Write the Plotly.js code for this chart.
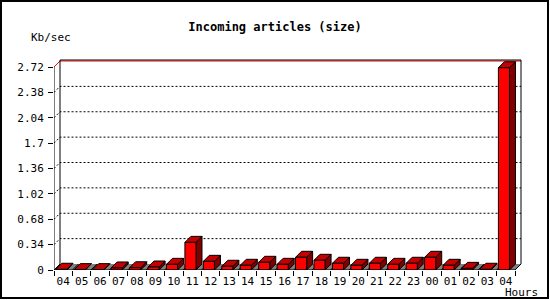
<!DOCTYPE html>
<html>
<head>
<meta charset="utf-8">
<script src="https://cdn.plot.ly/plotly-3.0.1.min.js"></script>
<style>
  html, body { margin: 0; padding: 0; background: #fff; }
  #wrap { position: relative; width: 550px; height: 300px; }
  #chart { position: absolute; left: 0; top: 0; width: 550px; height: 300px; }
  #frame { position: absolute; left: 0; top: 0; width: 549px; height: 299px; border: 2px solid #000; box-sizing: border-box; pointer-events: none; }
</style>
</head>
<body>
<div id="wrap"><div id="chart"></div><div id="frame"></div></div>
<script>
// ---- data ----
const hours = ['04','05','06','07','08','09','10','11','12','13','14','15','16','17','18','19','20','21','22','23','00','01','02','03','04'];
const kbPerSec = [0.01,0.005,0.005,0.027,0.03,0.04,0.076,0.37,0.116,0.05,0.063,0.103,0.076,0.17,0.13,0.09,0.063,0.09,0.076,0.09,0.17,0.063,0.022,0.01,2.71];
const yTickVals = [0,0.34,0.68,1.02,1.36,1.7,2.04,2.38,2.72];
const yTickText = ['0','0.34','0.68','1.02','1.36','1.7','2.04','2.38','2.72'];

// ---- geometry (style) ----
const pxPerX = 18.44, pxPerY = 74.63;
const dx = 6 / pxPerX, dy = 6 / pxPerY;
const n = hours.length;
const xs = hours.map((_, i) => i);
const x0 = -0.5, x1 = n - 0.5;
const yMax = yTickVals[yTickVals.length - 1];
const plotL = 54, plotR = 28, plotT = 59, plotB = 30;
const plotW = 550 - plotL - plotR, plotH = 300 - plotT - plotB;
const xRange = [x0, x0 + plotW / pxPerX];
const yRange = [0, plotH / pxPerY];
const fL = -0.4, fR = 0.2;

function polys(makePts) {
  const X = [], Y = [];
  xs.forEach((c, i) => {
    const pts = makePts(c, kbPerSec[i]);
    pts.forEach(p => { X.push(p[0]); Y.push(p[1]); });
    X.push(pts[0][0]); Y.push(pts[0][1]);
    X.push(null); Y.push(null);
  });
  return {X, Y};
}

const traces = [];
// floor
traces.push({x:[x0, x1, x1+dx, x0+dx, x0], y:[0,0,dy,dy,0], mode:'lines', fill:'toself',
  fillcolor:'#808080', line:{width:0, color:'rgba(0,0,0,0)'}, hoverinfo:'skip'});
// floor dividers
(function(){
  const X=[],Y=[];
  for (let k=0;k<=n;k++){ const b=k-0.5; X.push(b,b+dx,null); Y.push(0,dy,null); }
  traces.push({x:X,y:Y,mode:'lines',line:{color:'#000',width:1},hoverinfo:'skip'});
})();
// dotted gridlines (front axis diagonal to back plane)
(function(){
  const X=[],Y=[];
  yTickVals.forEach(t => { if (t>0 && t<yMax){ X.push(x0,x0+dx,x1+dx,null); Y.push(t,t+dy,t+dy,null);} });
  traces.push({x:X,y:Y,mode:'lines',line:{color:'#000',width:1,dash:'2px,2px'},hoverinfo:'skip'});
})();
// top red level
traces.push({x:[x0,x0+dx,x1+dx],y:[yMax,yMax+dy,yMax+dy],mode:'lines',line:{color:'#ff0000',width:1},hoverinfo:'skip'});
// back frame
const topB = yMax + dy + 1/pxPerY;
traces.push({x:[x0+dx,x0+dx,null,x0+dx,x1+dx,x1+dx],y:[dy,topB,null,topB,topB,dy],mode:'lines',line:{color:'#000',width:1},hoverinfo:'skip'});

// bars
const sideFaces = polys((c,v)=>[[c+fR,0],[c+fR+dx,dy],[c+fR+dx,v+dy],[c+fR,v]]);
const topFaces = polys((c,v)=>[[c+fL,v],[c+fR,v],[c+fR+dx,v+dy],[c+fL+dx,v+dy]]);
const frontFaces = polys((c,v)=>[[c+fL,0],[c+fR,0],[c+fR,v],[c+fL,v]]);
traces.push({x:sideFaces.X,y:sideFaces.Y,mode:'lines',fill:'toself',fillcolor:'#800000',line:{color:'#000',width:1},hoverinfo:'skip'});
traces.push({x:topFaces.X,y:topFaces.Y,mode:'lines',fill:'toself',fillcolor:'#c40000',line:{color:'#000',width:1},hoverinfo:'skip'});
traces.push({x:frontFaces.X,y:frontFaces.Y,mode:'lines',fill:'toself',fillcolor:'#ff0000',line:{color:'#000',width:1},hoverinfo:'skip'});
// front axes
traces.push({x:[x0,x0,x1],y:[yMax,0,0],mode:'lines',line:{color:'#000',width:1},hoverinfo:'skip'});

const boundaries = [];
for (let k=0;k<=n;k++) boundaries.push(k-0.5);

const mono = 'DejaVu Sans Mono, monospace';
const layout = {
  width:550, height:300,
  margin:{l:plotL, r:plotR, t:plotT, b:plotB, pad:0},
  paper_bgcolor:'#fff', plot_bgcolor:'#fff',
  showlegend:false,
  font:{family:mono, size:11, color:'#000'},
  title:{text:'<b>Incoming articles (size)</b>', font:{family:mono, size:12, color:'#000'},
         xref:'container', x:0.5, xanchor:'center', yref:'container', y:1-27/300, yanchor:'middle'},
  xaxis:{range:xRange, tickmode:'array', tickvals:xs, ticktext:hours, ticks:'', showgrid:false, zeroline:false,
         showline:false, ticklabelstandoff:3, tickfont:{family:mono,size:11,color:'#000'},
         minor:{tickmode:'array', tickvals:boundaries, ticks:'outside', ticklen:5, tickwidth:1, tickcolor:'#000', showgrid:false}},
  yaxis:{range:yRange, tickmode:'array', tickvals:yTickVals, ticktext:yTickText, ticks:'outside', ticklen:5,
         tickwidth:1, tickcolor:'#000', showgrid:false, zeroline:false, showline:false, ticklabelstandoff:2,
         tickfont:{family:mono,size:11,color:'#000'}},
  annotations:[
    {text:'Kb/sec', xref:'paper', yref:'paper', x:(29-plotL)/plotW, y:(300-plotB-37)/plotH, xanchor:'left', yanchor:'middle', showarrow:false, font:{family:mono,size:11,color:'#000'}},
    {text:'Hours', xref:'paper', yref:'paper', x:(503-plotL)/plotW, y:(300-plotB-292)/plotH, xanchor:'left', yanchor:'middle', showarrow:false, font:{family:mono,size:11,color:'#000'}}
  ]
};
Plotly.newPlot('chart', traces, layout, {displayModeBar:false, staticPlot:true});
</script>
</body>
</html>
